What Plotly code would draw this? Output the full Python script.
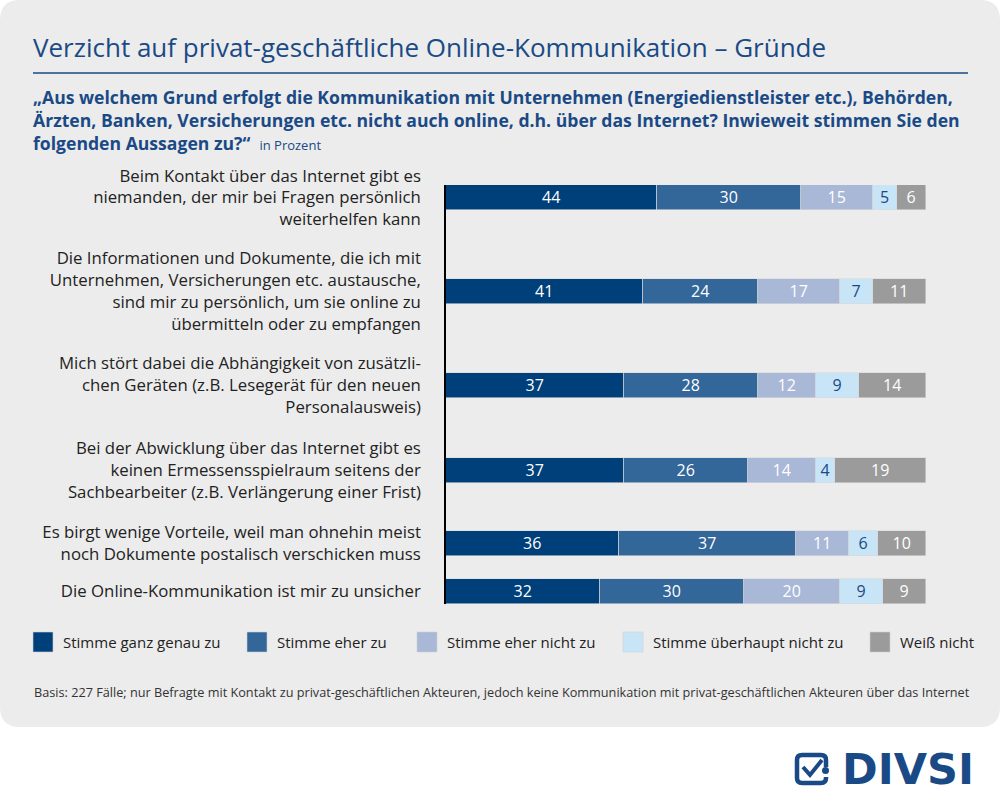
import plotly.graph_objects as go

# data
statements = [
    "Beim Kontakt über das Internet gibt es<br>niemanden, der mir bei Fragen persönlich<br>weiterhelfen kann",
    "Die Informationen und Dokumente, die ich mit<br>Unternehmen, Versicherungen etc. austausche,<br>sind mir zu persönlich, um sie online zu<br>übermitteln oder zu empfangen",
    "Mich stört dabei die Abhängigkeit von zusätzli-<br>chen Geräten (z.B. Lesegerät für den neuen<br>Personalausweis)",
    "Bei der Abwicklung über das Internet gibt es<br>keinen Ermessensspielraum seitens der<br>Sachbearbeiter (z.B. Verlängerung einer Frist)",
    "Es birgt wenige Vorteile, weil man ohnehin meist<br>noch Dokumente postalisch verschicken muss",
    "Die Online-Kommunikation ist mir zu unsicher",
]
answers = ["Stimme ganz genau zu", "Stimme eher zu", "Stimme eher nicht zu",
           "Stimme überhaupt nicht zu", "Weiß nicht"]
ganz_genau = [44, 41, 37, 37, 36, 32]
eher_zu = [30, 24, 28, 26, 37, 30]
eher_nicht = [15, 17, 12, 14, 11, 20]
ueberhaupt_nicht = [5, 7, 9, 4, 6, 9]
weiss_nicht = [6, 11, 14, 19, 10, 9]

question = [
    "„Aus welchem Grund erfolgt die Kommunikation mit Unternehmen (Energiedienstleister etc.), Behörden,",
    "Ärzten, Banken, Versicherungen etc. nicht auch online, d.h. über das Internet? Inwieweit stimmen Sie den",
    "folgenden Aussagen zu?“",
]

series = [ganz_genau, eher_zu, eher_nicht, ueberhaupt_nicht, weiss_nicht]
colors = ["#00407a", "#336699", "#a9b8d6", "#c8e4f7", "#9b9b9b"]
text_colors = ["white", "white", "white", "#1a4a86", "white"]

# layout: rows are spaced by label height, like the original
row_y = [197.5, 291, 385, 470, 543, 591.5]

L, R, T, B = 446, 926, 185, 604
W, H = R - L, B - T
BLUE = "#1a4a86"
FONT = "Open Sans"


def px(x):
    return (x - L) / W


def py(y):
    return (B - y) / H


def note(text, x, y, size, color=BLUE, family=FONT, **kw):
    d = dict(text=text, x=px(x), y=py(y), xref="paper", yref="paper",
             showarrow=False, xanchor="left", yanchor="middle",
             font=dict(family=family, size=size, color=color))
    d.update(kw)
    return d


fig = go.Figure()
for vals, name, col, tcol in zip(series, answers, colors, text_colors):
    fig.add_trace(go.Bar(
        x=vals, y=row_y, name=name, orientation="h", width=25,
        marker=dict(color=col, line=dict(color="#d8d8d8", width=0.6)),
        text=vals, textposition="inside", insidetextanchor="middle",
        textangle=0, constraintext="none",
        textfont=dict(family=FONT, size=16, color=tcol),
        showlegend=False, hoverinfo="x+name",
    ))

shapes = []
# grey rounded panel
r = 20
x0, x1, y0, y1 = 0, 1000, 0, 727
pts = (f"M {px(x0 + r)},{py(y0)} L {px(x1 - r)},{py(y0)} "
       f"Q {px(x1)},{py(y0)} {px(x1)},{py(y0 + r)} L {px(x1)},{py(y1 - r)} "
       f"Q {px(x1)},{py(y1)} {px(x1 - r)},{py(y1)} L {px(x0 + r)},{py(y1)} "
       f"Q {px(x0)},{py(y1)} {px(x0)},{py(y1 - r)} L {px(x0)},{py(y0 + r)} "
       f"Q {px(x0)},{py(y0)} {px(x0 + r)},{py(y0)} Z")
shapes.append(dict(type="path", path=pts, xref="paper", yref="paper",
                   fillcolor="#ececec", line=dict(width=0), layer="below"))
# title rule
shapes.append(dict(type="line", xref="paper", yref="paper",
                   x0=px(33), x1=px(968), y0=py(73), y1=py(73),
                   line=dict(color=BLUE, width=1.5)))

question_html = ("<b>" + question[0] + "</b><br><b>" + question[1] + "</b><br><b>"
                 + question[2] + "</b>  <span style='font-size:13px'>in Prozent</span>")

annotations = [
    note("Verzicht auf privat-geschäftliche Online-Kommunikation – Gründe", 31, 47, 26),
    note(question_html, 31, 119.5, 17.6, align="left"),
    note("Basis: 227 Fälle; nur Befragte mit Kontakt zu privat-geschäftlichen Akteuren, "
         "jedoch keine Kommunikation mit privat-geschäftlichen Akteuren über das Internet",
         32, 692, 12.7, color="#333333"),
    note("<b>DIVSI</b>", 840, 769, 43, family="DejaVu Sans"),
]

# legend drawn by hand to match the spacing of the original
leg_sq = [33, 247, 417, 623, 870]
for xs, name, col in zip(leg_sq, answers, colors):
    shapes.append(dict(type="rect", xref="paper", yref="paper",
                       x0=px(xs), x1=px(xs + 20), y0=py(632), y1=py(652),
                       fillcolor=col, line=dict(color="#d0d0d0", width=0.6)))
    annotations.append(note(name, xs + 28, 642, 15, color="#222222"))

# logo icon
ix0, ix1, iy0, iy1 = 797, 826, 755, 783
ir = 5
icon = (f"M {px(ix1)},{py(iy0 + 12)} L {px(ix1)},{py(iy0 + ir)} "
        f"Q {px(ix1)},{py(iy0)} {px(ix1 - ir)},{py(iy0)} L {px(ix0 + ir)},{py(iy0)} "
        f"Q {px(ix0)},{py(iy0)} {px(ix0)},{py(iy0 + ir)} L {px(ix0)},{py(iy1 - ir)} "
        f"Q {px(ix0)},{py(iy1)} {px(ix0 + ir)},{py(iy1)} L {px(ix1 - ir)},{py(iy1)} "
        f"Q {px(ix1)},{py(iy1)} {px(ix1)},{py(iy1 - ir)} L {px(ix1)},{py(iy1 - 6)}")
shapes.append(dict(type="path", path=icon, xref="paper", yref="paper",
                   line=dict(color=BLUE, width=4.5)))
check = (f"M {px(803)},{py(767)} L {px(810)},{py(775)} L {px(822)},{py(760)}")
shapes.append(dict(type="path", path=check, xref="paper", yref="paper",
                   line=dict(color=BLUE, width=4)))
shapes.append(dict(type="circle", xref="paper", yref="paper",
                   x0=px(822), x1=px(829), y0=py(767), y1=py(774),
                   fillcolor=BLUE, line=dict(width=0)))

fig.update_layout(
    width=1000, height=810,
    margin=dict(l=L, r=1000 - R, t=T, b=810 - B, pad=0),
    paper_bgcolor="white", plot_bgcolor="rgba(0,0,0,0)",
    barmode="stack", bargap=0,
    font=dict(family=FONT, size=16, color="#222222"),
    xaxis=dict(range=[0, 100], visible=False, fixedrange=True),
    yaxis=dict(range=[B, T], tickvals=row_y, ticktext=statements,
               showline=True, linecolor="black", linewidth=1.5,
               showgrid=False, zeroline=False, ticks="", ticklabelstandoff=20,
               tickfont=dict(family=FONT, size=16.8, color="#222222"),
               fixedrange=True),
    shapes=shapes, annotations=annotations,
)

fig.write_html("out.html", config={"displayModeBar": False},
               post_script="document.body.style.margin='0';")
